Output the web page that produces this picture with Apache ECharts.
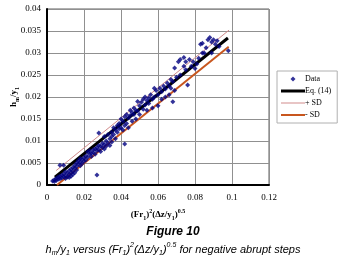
<!DOCTYPE html>
<html>
<head>
<meta charset="utf-8">
<script src="https://cdn.jsdelivr.net/npm/echarts@6/dist/echarts.min.js"></script>
<style>
  html, body { margin: 0; padding: 0; background: #fff; }
</style>
</head>
<body>
<!-- chart container, same size as the window -->
<div id="chart" style="width:346px;height:267px;"></div>
<script>
// measured points [x, y]
const dataPoints = [
  [0.003, 0.0009], [0.004, 0.0012], [0.004, 0.0008], [0.005, 0.0015], [0.005, 0.0010],
  [0.006, 0.0018], [0.006, 0.0013], [0.007, 0.0020], [0.007, 0.0014], [0.007, 0.0045],
  [0.008, 0.0022], [0.008, 0.0016], [0.009, 0.0025], [0.009, 0.0019], [0.009, 0.0045],
  [0.010, 0.0030], [0.010, 0.0021], [0.010, 0.0015], [0.011, 0.0027], [0.011, 0.0018],
  [0.012, 0.0033], [0.012, 0.0024], [0.012, 0.0017], [0.013, 0.0036], [0.013, 0.0028],
  [0.013, 0.0020], [0.014, 0.0040], [0.014, 0.0031], [0.014, 0.0024], [0.015, 0.0038],
  [0.015, 0.0045], [0.015, 0.0028], [0.016, 0.0050], [0.016, 0.0042], [0.016, 0.0034],
  [0.017, 0.0048], [0.017, 0.0055], [0.018, 0.0052], [0.018, 0.0044], [0.018, 0.0060],
  [0.019, 0.0058], [0.019, 0.0049], [0.020, 0.0062], [0.020, 0.0054], [0.021, 0.0066],
  [0.021, 0.0057], [0.022, 0.0075], [0.022, 0.0063], [0.023, 0.0070], [0.023, 0.0078],
  [0.024, 0.0072], [0.024, 0.0065], [0.025, 0.0080], [0.025, 0.0074], [0.026, 0.0082],
  [0.026, 0.0070], [0.027, 0.0023], [0.027, 0.0085], [0.027, 0.0078], [0.028, 0.0118],
  [0.028, 0.0090], [0.028, 0.0080], [0.029, 0.0088], [0.029, 0.0076], [0.030, 0.0095],
  [0.030, 0.0085], [0.031, 0.0110], [0.031, 0.0092], [0.031, 0.0082], [0.032, 0.0100],
  [0.032, 0.0088], [0.033, 0.0115], [0.033, 0.0095], [0.034, 0.0105], [0.034, 0.0090],
  [0.035, 0.0120], [0.035, 0.0110], [0.035, 0.0098], [0.036, 0.0130], [0.036, 0.0115],
  [0.037, 0.0125], [0.037, 0.0105], [0.038, 0.0135], [0.038, 0.0120], [0.039, 0.0140],
  [0.039, 0.0128], [0.040, 0.0150], [0.040, 0.0130], [0.041, 0.0145], [0.041, 0.0125],
  [0.042, 0.0093], [0.042, 0.0155], [0.042, 0.0135], [0.043, 0.0160], [0.043, 0.0140],
  [0.044, 0.0152], [0.044, 0.0130], [0.045, 0.0170], [0.045, 0.0158], [0.046, 0.0165],
  [0.046, 0.0145], [0.047, 0.0175], [0.047, 0.0160], [0.048, 0.0170], [0.048, 0.0150],
  [0.049, 0.0190], [0.049, 0.0168], [0.050, 0.0180], [0.050, 0.0160], [0.051, 0.0188],
  [0.052, 0.0195], [0.052, 0.0172], [0.053, 0.0200], [0.053, 0.0182], [0.054, 0.0192],
  [0.054, 0.0170], [0.055, 0.0198], [0.055, 0.0185], [0.056, 0.0205], [0.057, 0.0195],
  [0.057, 0.0175], [0.058, 0.0220], [0.058, 0.0200], [0.059, 0.0215], [0.060, 0.0205],
  [0.060, 0.0180], [0.061, 0.0220], [0.062, 0.0212], [0.062, 0.0195], [0.063, 0.0225],
  [0.064, 0.0218], [0.064, 0.0200], [0.065, 0.0232], [0.066, 0.0225], [0.066, 0.0205],
  [0.067, 0.0240], [0.067, 0.0220], [0.068, 0.0189], [0.068, 0.0235], [0.069, 0.0266],
  [0.069, 0.0215], [0.070, 0.0245], [0.071, 0.0280], [0.072, 0.0250], [0.072, 0.0285],
  [0.074, 0.0290], [0.074, 0.0270], [0.075, 0.0262], [0.075, 0.0280], [0.076, 0.0227],
  [0.077, 0.0285], [0.078, 0.0270], [0.079, 0.0280], [0.080, 0.0265], [0.081, 0.0275],
  [0.082, 0.0288], [0.083, 0.0320], [0.084, 0.0300], [0.084, 0.0322], [0.085, 0.0300],
  [0.086, 0.0312], [0.087, 0.0330], [0.088, 0.0335], [0.089, 0.0325], [0.089, 0.0300],
  [0.090, 0.0330], [0.091, 0.0320], [0.092, 0.0328], [0.093, 0.0315], [0.098, 0.0305]
];
// fitted line and +/- SD, end points
const eqLine = [[0.0043, 0.0018], [0.0978, 0.0334]];
const plusSD = [[0.0050, 0.0033], [0.0984, 0.0352]];
const minusSD = [[0.0054, 0.0000], [0.0982, 0.0314]];
const xTicks = [0, 0.02, 0.04, 0.06, 0.08, 0.1, 0.12];
const yTicks = [0, 0.005, 0.01, 0.015, 0.02, 0.025, 0.03, 0.035, 0.04];

const serif = '"Liberation Serif", "Times New Roman", serif';
const sans = '"Liberation Sans", Arial, sans-serif';

const myChart = echarts.init(document.getElementById('chart'));

const option = {
  backgroundColor: '#fff',
  animation: false,
  grid: {
    left: 47, right: 77, top: 9, bottom: 82,
    outerBoundsMode: 'none',
    containLabel: false,
    show: true, borderColor: '#606060', borderWidth: 1
  },
  legend: {
    orient: 'vertical',
    left: 277, top: 71,
    width: 60,
    padding: [4, 6, 4, 4],
    itemGap: 4,
    itemWidth: 24, itemHeight: 8,
    symbolKeepAspect: true,
    borderColor: '#b0b0b0', borderWidth: 1,
    textStyle: { fontFamily: serif, fontSize: 8, color: '#000', padding: [0, 0, 0, -5] },
    data: [
      // small diamond inside a 24x8 box (the move-to points fix the box)
      { name: 'Data', icon: 'path://M0,0 M24,8 M12,1.5 L14.5,4 L12,6.5 L9.5,4 Z' },
      { name: 'Eq. (14)', icon: 'path://M0,0h24v3h-24z' },
      { name: '+ SD', icon: 'path://M0,0h24v1h-24z' },
      { name: '- SD', icon: 'path://M0,0h24v2h-24z' }
    ]
  },
  xAxis: {
    type: 'value',
    min: 0, max: 0.12, interval: 0.02,
    name: '{b|(Fr}{bs|1}{b|)}{bp|2}{b|(Δz/y}{bs|1}{b|)}{bp|0.5}',
    nameLocation: 'middle',
    nameGap: 23,
    nameTextStyle: {
      rich: {
        b: { fontFamily: serif, fontWeight: 'bold', fontSize: 9, color: '#000', lineHeight: 13, verticalAlign: 'middle' },
        bs: { fontFamily: serif, fontWeight: 'bold', fontSize: 6, color: '#000', lineHeight: 6, verticalAlign: 'bottom' },
        bp: { fontFamily: serif, fontWeight: 'bold', fontSize: 6, color: '#000', lineHeight: 6, verticalAlign: 'top' }
      }
    },
    axisLine: { show: true, lineStyle: { color: '#000', width: 2 } },
    axisTick: { show: false },
    splitLine: { show: true, lineStyle: { color: '#909090', width: 1 } },
    axisLabel: {
      fontFamily: serif, fontSize: 9, color: '#000', margin: 8,
      formatter: function (v) { return xTicks.indexOf(+v.toFixed(2)) >= 0 ? String(+v.toFixed(2)) : ''; }
    }
  },
  yAxis: {
    type: 'value',
    min: 0, max: 0.04, interval: 0.005,
    name: '{b|h}{bs|m}{b|/y}{bs|1}',
    nameLocation: 'middle',
    nameRotate: 90,
    nameGap: 27,
    nameMoveOverlap: false,
    nameTextStyle: {
      rich: {
        b: { fontFamily: serif, fontWeight: 'bold', fontSize: 9, color: '#000', lineHeight: 13, verticalAlign: 'middle' },
        bs: { fontFamily: serif, fontWeight: 'bold', fontSize: 6, color: '#000', lineHeight: 6, verticalAlign: 'bottom' }
      }
    },
    axisLine: { show: true, lineStyle: { color: '#000', width: 2 } },
    axisTick: { show: false },
    splitLine: { show: true, lineStyle: { color: '#909090', width: 1 } },
    axisLabel: {
      fontFamily: serif, fontSize: 9, color: '#000', margin: 6,
      formatter: function (v) { return yTicks.indexOf(+v.toFixed(3)) >= 0 ? String(+v.toFixed(3)) : ''; }
    }
  },
  series: [
    {
      name: 'Data',
      type: 'scatter',
      symbol: 'diamond',
      symbolSize: 5,
      itemStyle: { color: '#000080' },
      data: dataPoints,
      z: 5
    },
    {
      name: 'Eq. (14)',
      type: 'line',
      symbol: 'none',
      lineStyle: { color: '#000', width: 3 },
      itemStyle: { color: '#000' },
      data: eqLine,
      z: 4
    },
    {
      name: '+ SD',
      type: 'line',
      symbol: 'none',
      lineStyle: { color: '#d08a8a', width: 1 },
      itemStyle: { color: '#d08a8a' },
      data: plusSD,
      z: 4
    },
    {
      name: '- SD',
      type: 'line',
      symbol: 'none',
      lineStyle: { color: '#c8561e', width: 2 },
      itemStyle: { color: '#c8561e' },
      data: minusSD,
      z: 4
    }
  ],
  graphic: [
    {
      type: 'text',
      left: 'center', top: 226,
      style: {
        text: 'Figure 10',
        font: 'italic bold 12px ' + sans,
        fill: '#000'
      }
    },
    {
      type: 'text',
      left: 'center', top: 242,
      style: {
        text: '{t|h}{s|m}{t|/y}{s|1}{t| versus (Fr}{s|1}{t|)}{p|2}{t|(Δz/y}{s|1}{t|)}{p|0.5}{t| for negative abrupt steps}',
        rich: {
          t: { font: 'italic 11px ' + sans, fill: '#000', lineHeight: 15, verticalAlign: 'middle' },
          s: { font: 'italic 7px ' + sans, fill: '#000', lineHeight: 7, verticalAlign: 'bottom' },
          p: { font: 'italic 7px ' + sans, fill: '#000', lineHeight: 7, verticalAlign: 'top' }
        }
      }
    }
  ]
};

myChart.setOption(option);
</script>
</body>
</html>
